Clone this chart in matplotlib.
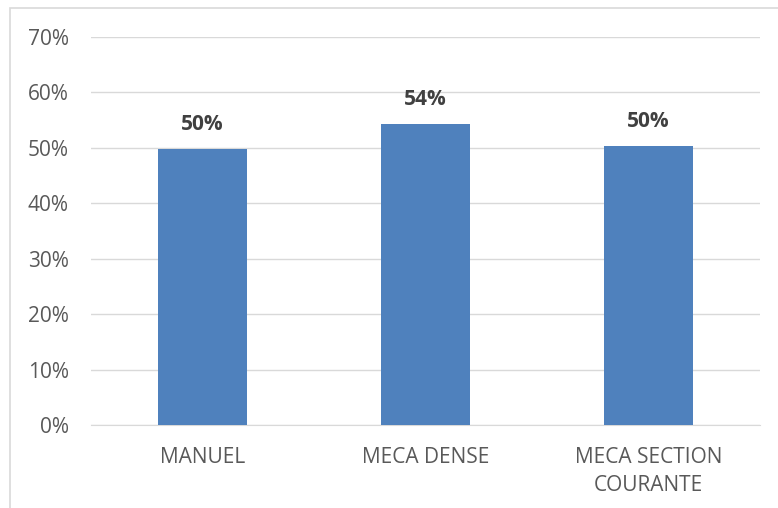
import matplotlib.pyplot as plt
from matplotlib.patches import Rectangle
from matplotlib.ticker import FuncFormatter

# Data
categories = ['MANUEL', 'MECA DENSE', 'MECA SECTION\nCOURANTE']
values = [0.498, 0.543, 0.503]
labels = ['50%', '54%', '50%']

plt.rcParams['font.family'] = ['Open Sans', 'DejaVu Sans']

fig = plt.figure(figsize=(7.78, 5.08), dpi=100)
ax = fig.add_axes([0.117, 0.1634, 0.86, 0.7638])

# Chart border
fig.patches.append(Rectangle((10 / 778, -0.1), 1.2, 1 - 8 / 508 + 0.1,
                             transform=fig.transFigure, fill=False,
                             edgecolor='#d9d9d9', linewidth=1.2))

x = range(len(categories))
bars = ax.bar(x, values, width=0.4, color='#4f81bd', zorder=3)

for b, lab in zip(bars, labels):
    ax.text(b.get_x() + b.get_width() / 2, b.get_height() + 0.045, lab,
            ha='center', va='center', fontsize=15, fontweight='bold',
            color='#404040')

ax.set_xlim(-0.5, 2.5)
ax.set_ylim(0, 0.7)
ax.set_yticks([i / 10 for i in range(8)])
ax.yaxis.set_major_formatter(FuncFormatter(lambda v, p: f'{v * 100:.0f}%'))
ax.set_xticks(list(x))
ax.set_xticklabels(categories, linespacing=1.45)

ax.grid(axis='y', color='#d9d9d9', linewidth=1, zorder=0)
for s in ['top', 'right', 'left']:
    ax.spines[s].set_visible(False)
ax.spines['bottom'].set_color('#d9d9d9')
ax.tick_params(axis='both', length=0, labelsize=15, colors='#595959')
ax.tick_params(axis='y', pad=16)
ax.tick_params(axis='x', pad=16)

fig.savefig('out.png', dpi=100)
